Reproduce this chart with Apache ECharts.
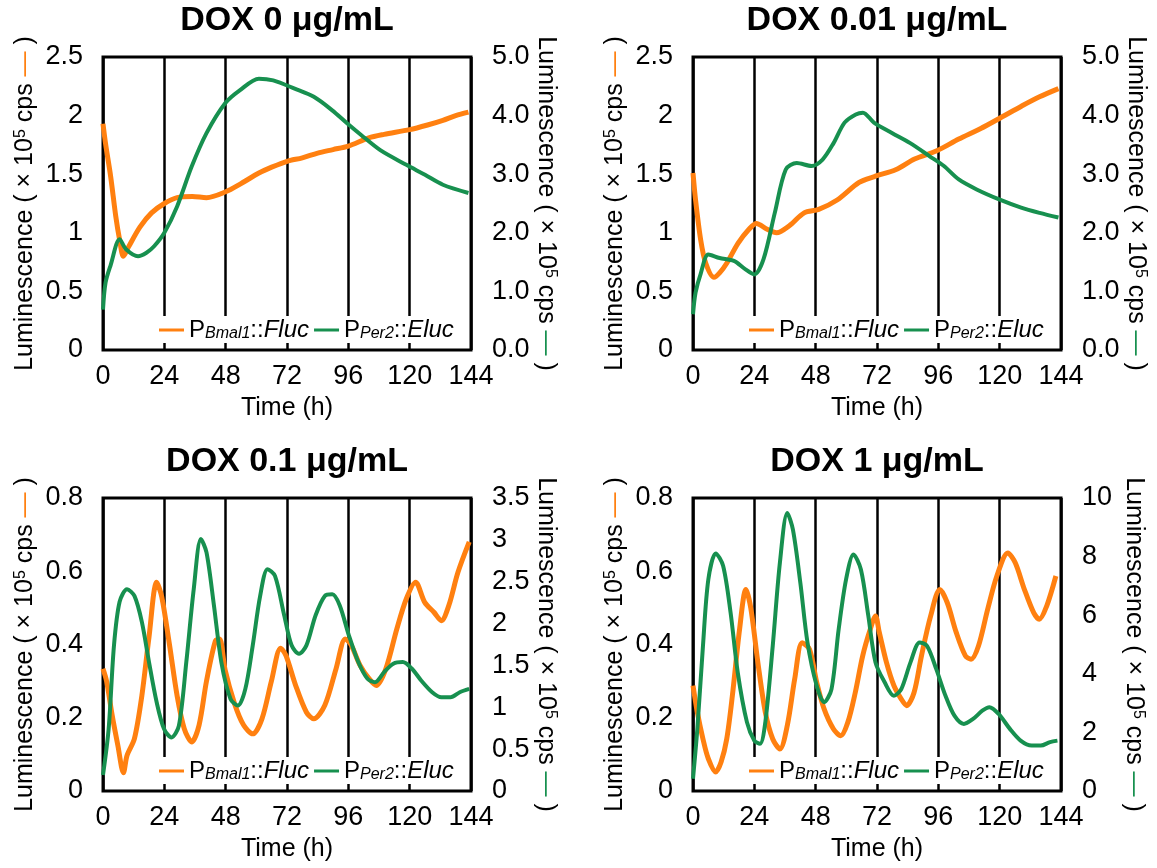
<!DOCTYPE html>
<html>
<head>
<meta charset="utf-8">
<script src="https://cdn.jsdelivr.net/npm/echarts@6/dist/echarts.min.js"></script>
<style>html,body{margin:0;padding:0;background:#fff}#c{width:1157px;height:868px}</style>
</head>
<body>
<div id="c"></div>
<script>
// ---------- data ----------
const titles = ['DOX 0 μg/mL', 'DOX 0.01 μg/mL', 'DOX 0.1 μg/mL', 'DOX 1 μg/mL'];
const xTicks = [0, 24, 48, 72, 96, 120, 144];

// Panel 1 (DOX 0)
const p1BmalT = [0, 1, 3, 5, 6.5, 8, 10, 14.5, 19, 24, 29, 35, 40.5, 48, 54, 61, 66, 72, 78, 84, 90, 96, 104, 110, 120, 127, 133, 138, 143];
const p1BmalV = [1.93, 1.76, 1.48, 1.14, 0.94, 0.80, 0.88, 1.05, 1.17, 1.25, 1.30, 1.31, 1.30, 1.35, 1.42, 1.51, 1.56, 1.61, 1.64, 1.68, 1.71, 1.74, 1.81, 1.84, 1.88, 1.92, 1.96, 2.00, 2.03];
const p1PerT = [0, 1, 3, 6.5, 9, 13.7, 17, 20, 24, 29, 34.7, 40.5, 47.8, 53.5, 61, 66.6, 75, 82.5, 89.7, 95.5, 101, 108.5, 118.7, 126, 133, 143];
const p1PerV = [0.69, 1.15, 1.45, 1.89, 1.72, 1.60, 1.66, 1.77, 2.0, 2.45, 3.13, 3.70, 4.21, 4.43, 4.63, 4.60, 4.46, 4.32, 4.09, 3.87, 3.67, 3.41, 3.16, 2.99, 2.82, 2.68];

// Panel 2 (DOX 0.01)
const p2BmalT = [0, 1, 3, 5, 8.2, 10.5, 13.2, 17.6, 21.9, 24.8, 29, 32.7, 37.7, 43.5, 49.2, 56.4, 65, 71, 79.5, 86.7, 95.4, 104, 112.6, 121, 128.5, 135.6, 143];
const p2BmalV = [1.51, 1.28, 0.94, 0.74, 0.62, 0.66, 0.74, 0.91, 1.03, 1.08, 1.03, 1.00, 1.06, 1.17, 1.20, 1.28, 1.43, 1.48, 1.54, 1.63, 1.70, 1.80, 1.89, 1.99, 2.08, 2.16, 2.23];
const p2PerT = [0, 1, 3, 6, 10.4, 16, 20.4, 24, 27.6, 32, 36.3, 40.6, 46.4, 50.7, 55, 59.3, 63.7, 66.5, 70.8, 78, 85, 92.5, 98.2, 104, 111, 119.8, 128.4, 135.6, 143];
const p2PerV = [0.61, 0.98, 1.30, 1.63, 1.57, 1.52, 1.38, 1.29, 1.55, 2.34, 3.08, 3.19, 3.14, 3.25, 3.53, 3.88, 4.02, 4.05, 3.88, 3.70, 3.53, 3.31, 3.14, 2.91, 2.74, 2.57, 2.43, 2.34, 2.26];

// Panel 3 (DOX 0.1)
const p3BmalT = [0, 1.4, 3.6, 5.8, 8, 9.4, 12.3, 15.2, 18, 21, 23, 26, 29, 31.8, 34.7, 37.6, 40.5, 44, 45.6, 47.8, 51.4, 55, 58.6, 62.2, 65.9, 69.5, 71.6, 75.3, 79.6, 82.5, 86.8, 91.2, 94.8, 97, 100.6, 104.2, 107, 110.7, 115, 118.7, 122.3, 125.9, 129.5, 132.4, 135.3, 138.9, 143.3];
const p3BmalV = [0.334, 0.30, 0.206, 0.125, 0.05, 0.097, 0.143, 0.26, 0.42, 0.57, 0.53, 0.40, 0.26, 0.17, 0.134, 0.18, 0.30, 0.41, 0.415, 0.33, 0.24, 0.18, 0.156, 0.197, 0.30, 0.39, 0.37, 0.29, 0.215, 0.197, 0.234, 0.334, 0.415, 0.40, 0.343, 0.306, 0.288, 0.334, 0.443, 0.525, 0.57, 0.515, 0.488, 0.465, 0.506, 0.597, 0.68];
const p3PerT = [0, 2.2, 4.3, 6.5, 9.4, 12.3, 15.2, 18, 21, 23.9, 26.8, 29.7, 32.6, 35.5, 38.3, 40.5, 43.4, 46.3, 49.9, 52.8, 55.7, 58.6, 61.5, 64.4, 67.3, 70.9, 73.8, 76.7, 79.6, 83.2, 86.8, 89.7, 92.6, 96.2, 99.9, 103.5, 106.4, 110, 113.6, 117.3, 120.9, 124.5, 128.8, 132.4, 136, 139.6, 143.3];
const p3PerV = [0.19, 0.74, 1.74, 2.26, 2.41, 2.33, 2.02, 1.54, 1.06, 0.74, 0.64, 0.78, 1.54, 2.41, 3.01, 2.85, 2.22, 1.54, 1.10, 1.02, 1.22, 1.74, 2.33, 2.65, 2.57, 2.10, 1.74, 1.64, 1.74, 2.10, 2.33, 2.35, 2.22, 1.86, 1.54, 1.34, 1.30, 1.42, 1.52, 1.54, 1.46, 1.32, 1.18, 1.12, 1.12, 1.18, 1.22];

// Panel 4 (DOX 1)
const p4BmalT = [0, 1.7, 3.9, 6, 8.9, 11, 13.2, 15.4, 18.2, 20.7, 22.6, 25.4, 28.3, 31.2, 34, 36.9, 39.8, 42.7, 45.6, 48.4, 51.3, 54.9, 57.8, 60.6, 63.5, 66.4, 69.3, 71.4, 72.9, 75.7, 78.6, 81.5, 83.6, 86.5, 89.4, 93, 96.6, 99.5, 103, 106.6, 108.8, 111.7, 115.3, 118.9, 123.2, 126.1, 129.7, 133.3, 135.5, 138.4, 142];
const p4BmalV = [0.288, 0.215, 0.142, 0.088, 0.052, 0.079, 0.142, 0.26, 0.44, 0.55, 0.50, 0.35, 0.215, 0.142, 0.115, 0.179, 0.306, 0.405, 0.387, 0.297, 0.224, 0.17, 0.151, 0.188, 0.269, 0.369, 0.44, 0.478, 0.433, 0.351, 0.288, 0.251, 0.233, 0.269, 0.369, 0.478, 0.55, 0.514, 0.433, 0.369, 0.36, 0.396, 0.496, 0.587, 0.65, 0.623, 0.55, 0.487, 0.469, 0.505, 0.587];
const p4PerT = [0, 1.7, 3.9, 6, 8.9, 11.8, 14.7, 17.5, 21.1, 24, 26.2, 28.3, 31.2, 34, 36.9, 39.1, 42, 44.8, 48.4, 51.3, 54.2, 57, 59.9, 62.8, 65.7, 68.6, 71.4, 75, 78.6, 81.5, 85.1, 88.7, 91.6, 95.2, 98.8, 102.3, 106, 109.6, 113.2, 116, 119.6, 124, 128.2, 132.5, 136.1, 139.7, 142.6];
const p4PerV = [0.42, 2.12, 4.95, 7.22, 8.11, 7.68, 6.09, 4.05, 2.35, 1.72, 1.61, 2.35, 4.95, 7.79, 9.49, 8.92, 7.11, 5.07, 3.59, 3.03, 3.48, 5.52, 7.22, 8.07, 7.56, 5.98, 4.39, 3.71, 3.25, 3.48, 4.39, 5.07, 4.95, 4.16, 3.25, 2.57, 2.29, 2.46, 2.74, 2.86, 2.63, 2.12, 1.72, 1.55, 1.55, 1.67, 1.72];

// axis ranges
const leftMax = [2.5, 2.5, 0.8, 0.8];
const leftStep = [0.5, 0.5, 0.2, 0.2];
const rightMax = [5, 5, 3.5, 10];
const rightStep = [1, 1, 0.5, 2];
const rightDecimals = [1, 1, -1, -1];

// ---------- build ----------
const FONT = 'Liberation Sans, Arial, sans-serif';
const ORANGE = '#FF8010';
const GREEN = '#17904F';
const boxes = [[103, 57], [693, 57], [103, 498], [693, 498]];
const GW = 368, GH = 293;
const bmal = [[p1BmalT, p1BmalV], [p2BmalT, p2BmalV], [p3BmalT, p3BmalV], [p4BmalT, p4BmalV]];
const per = [[p1PerT, p1PerV], [p2PerT, p2PerV], [p3PerT, p3PerV], [p4PerT, p4PerV]];
const zip = (t, v) => t.map((x, i) => [x, v[i]]);

const nameRich = (dashColor) => ({
  a: {fontSize: 25, fontFamily: FONT, color: '#000'},
  sup: {fontSize: 16, fontFamily: FONT, color: '#000', verticalAlign: 'top'},
  o: {fontSize: 25, fontFamily: FONT, color: dashColor}
});
const nameText = '{a|Luminescence ( × 10}{sup|5}{a| cps }{o|—}{a| )}';

const option = {
  backgroundColor: '#fff',
  animation: false,
  title: [], grid: [], xAxis: [], yAxis: [], series: [], legend: []
};

for (let i = 0; i < 4; i++) {
  const [L, T] = boxes[i];
  option.title.push({
    text: titles[i], left: L + GW / 2, top: T - 53, textAlign: 'center', padding: 0,
    textStyle: {fontSize: 34, fontWeight: 'bold', fontFamily: FONT, color: '#000'}
  });
  option.grid.push({left: L, top: T, width: GW, height: GH, show: true, borderColor: '#000', borderWidth: 3, backgroundColor: 'transparent'});
  option.xAxis.push({
    type: 'value', gridIndex: i, min: 0, max: 144, interval: 24,
    name: 'Time (h)', nameLocation: 'middle', nameGap: 46,
    nameTextStyle: {fontSize: 25, fontFamily: FONT, color: '#000'},
    axisLine: {show: false}, axisTick: {show: false},
    axisLabel: {fontSize: 27, fontFamily: FONT, color: '#000', margin: 13},
    splitLine: {show: true, lineStyle: {color: '#000', width: 2.5}}
  });
  option.yAxis.push({
    type: 'value', gridIndex: i, position: 'left', min: 0, max: leftMax[i], interval: leftStep[i],
    name: nameText, nameLocation: 'middle', nameGap: 65, nameRotate: 90,
    nameTextStyle: {rich: nameRich(ORANGE)},
    axisLine: {show: false}, axisTick: {show: false}, splitLine: {show: false},
    axisLabel: {fontSize: 27, fontFamily: FONT, color: '#000', margin: 20}
  });
  const dec = rightDecimals[i];
  option.yAxis.push({
    type: 'value', gridIndex: i, position: 'right', min: 0, max: rightMax[i], interval: rightStep[i],
    name: nameText, nameLocation: 'middle', nameGap: 60, nameRotate: -90,
    nameTextStyle: {rich: nameRich(GREEN)},
    axisLine: {show: false}, axisTick: {show: false}, splitLine: {show: false},
    axisLabel: {fontSize: 27, fontFamily: FONT, color: '#000', margin: 21,
      formatter: v => dec > 0 ? v.toFixed(dec) : String(+v.toFixed(2))}
  });
  const bName = 'Bmal1_' + i, pName = 'Per2_' + i;
  option.series.push({
    name: bName, type: 'line', xAxisIndex: i, yAxisIndex: 2 * i, data: zip(bmal[i][0], bmal[i][1]),
    symbol: 'none', smooth: 0.3, lineStyle: {color: ORANGE, width: 5}, itemStyle: {color: ORANGE}
  });
  option.series.push({
    name: pName, type: 'line', xAxisIndex: i, yAxisIndex: 2 * i + 1, data: zip(per[i][0], per[i][1]),
    symbol: 'none', smooth: 0.3, lineStyle: {color: GREEN, width: 4}, itemStyle: {color: GREEN}
  });
  option.legend.push({
    data: [bName, pName], left: L + 53, top: T + GH - 34, orient: 'horizontal',
    icon: 'rect', itemWidth: 25, itemHeight: 3, itemGap: 5,
    backgroundColor: '#fff', padding: [2, 3, 1, 3], selectedMode: false,
    formatter: n => n.startsWith('Bmal1') ? '{n|P}{s|Bmal1}{n|::}{i|Fluc}' : '{n|P}{s|Per2}{n|::}{i|Eluc}',
    textStyle: {
      fontSize: 24, fontFamily: FONT, color: '#000',
      rich: {
        n: {fontSize: 24, fontFamily: FONT, color: '#000'},
        i: {fontSize: 24, fontFamily: FONT, fontStyle: 'italic', color: '#000'},
        s: {fontSize: 16, fontFamily: FONT, fontStyle: 'italic', color: '#000', verticalAlign: 'bottom'}
      }
    }
  });
}

const chart = echarts.init(document.getElementById('c'), null, {renderer: 'canvas'});
chart.setOption(option);
</script>
</body>
</html>
